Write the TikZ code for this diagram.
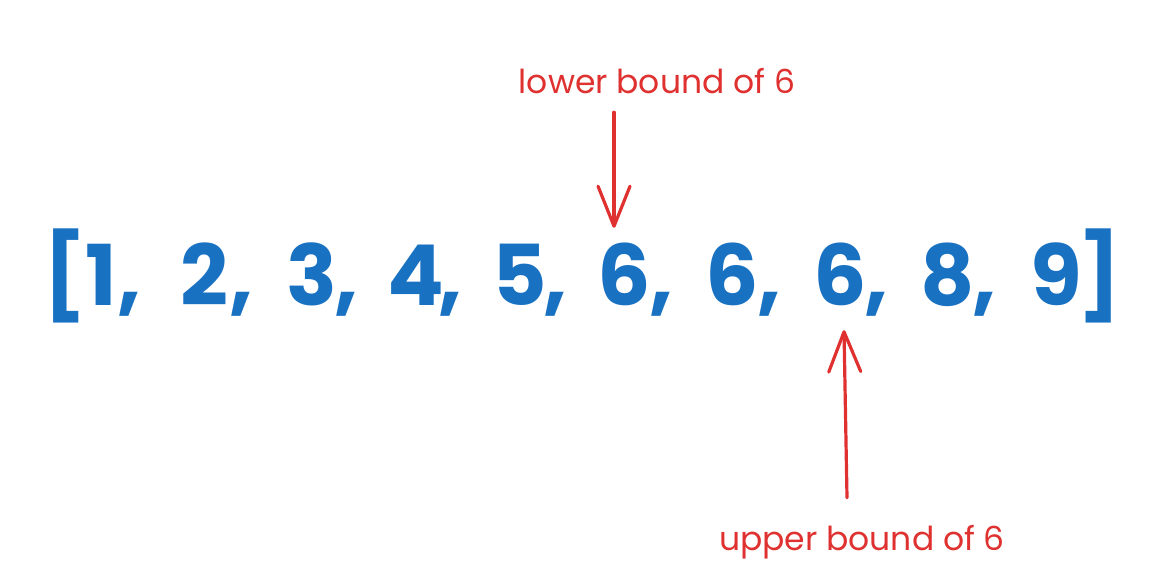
\documentclass[tikz,border=0pt]{standalone}
\usepackage{fontspec}
\setmainfont{Poppins}
\usetikzlibrary{arrows.meta}
\definecolor{exblue}{HTML}{1971C2}
\definecolor{exred}{HTML}{E03131}
\begin{document}
\begin{tikzpicture}[x=1pt,y=-1pt,
  num/.style={inner sep=0pt, anchor=base, text=exblue, font=\fontsize{84}{84}\selectfont\bfseries, text height=61pt, text depth=0pt},
  punct/.style={inner sep=0pt, anchor=base, text=exblue, font=\fontsize{84}{84}\selectfont\bfseries},
  lbl/.style={inner sep=0pt, anchor=base, text=exred, font=\fontsize{33}{33}\selectfont, text height=27pt, text depth=0pt},
  arr/.style={draw=exred, line width=3.2pt, line cap=round, line join=round, -{Straight Barb[length=40pt,width=32pt,line cap=round,line join=round]}}]
\useasboundingbox (0,0) rectangle (1166,574);
\node[punct] (lb) at (65,305) {[};
\node[num] (n1) at (101,305) {1};
\node[punct] (c1) at (130,305) {,};
\node[num] (n2) at (204,305) {2};
\node[punct] (c2) at (242,305) {,};
\node[num] (n3) at (312,305) {3};
\node[punct] (c3) at (347,305) {,};
\node[num] (n4) at (416,305) {4};
\node[punct] (c4) at (451,305) {,};
\node[num] (n5) at (520,305) {5};
\node[punct] (c5) at (556,305) {,};
\node[num] (n6) at (624,305) {6};
\node[punct] (c6) at (662,305) {,};
\node[num] (n7) at (732,305) {6};
\node[punct] (c7) at (770,305) {,};
\node[num] (n8) at (840,305) {6};
\node[punct] (c8) at (877,305) {,};
\node[num] (n9) at (948,305) {8};
\node[punct] (c9) at (985,305) {,};
\node[num] (n10) at (1056,305) {9};
\node[punct] (rb) at (1100,305) {]};
\node[lbl] (low) at (657,93) {lower bound of 6};
\node[lbl] (up) at (862,550) {upper bound of 6};
\draw[arr] ([xshift=-43pt,yshift=-19pt]low.south) -- ([xshift=-10pt,yshift=16pt]n6.north);
\draw[arr] ([xshift=-15pt,yshift=25pt]up.north) -- ([xshift=4pt,yshift=-25pt]n8.south);
\end{tikzpicture}
\end{document}
